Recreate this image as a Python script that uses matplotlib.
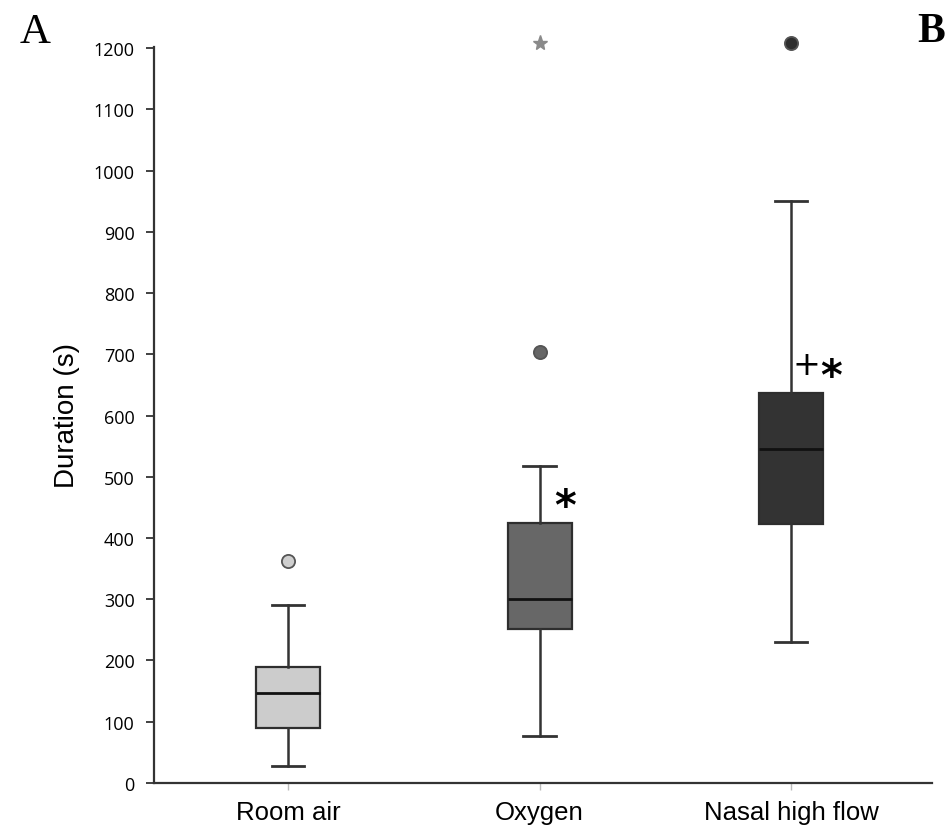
import matplotlib
matplotlib.use("Agg")
import matplotlib.pyplot as plt

# Duration per breathing-support group
categories = ["Room air", "Oxygen", "Nasal high flow"]
whisker_low = [28, 77, 231]
q1 = [90, 251, 423]
median = [147, 301, 546]
q3 = [190, 424, 636]
whisker_high = [290, 518, 951]
outliers_circle = [[363], [703], [1209]]
extremes_star = [[], [1209], []]
box_colors = ["#cccccc", "#676767", "#333333"]
flier_colors = ["#cfcfcf", "#666666", "#2e2e2e"]
y_ticks = list(range(0, 1201, 100))

# significance marks: (group index, x offset, value, text)
sig_marks = [(1, 0.10, 464, "*"), (2, 0.06, 684, "+"), (2, 0.16, 676, "*")]

fig = plt.figure(figsize=(9.48, 8.29), dpi=100)
ax = fig.add_axes([0.1624, 0.0543, 0.8207, 0.888])

stats = []
for i, name in enumerate(categories):
    stats.append(dict(label=name, whislo=whisker_low[i], q1=q1[i], med=median[i],
                      q3=q3[i], whishi=whisker_high[i], fliers=[]))

positions = list(range(len(categories)))
bp = ax.bxp(stats, positions=positions, widths=0.254, patch_artist=True,
            showfliers=False,
            boxprops=dict(edgecolor="#2e2e2e", linewidth=1.6),
            medianprops=dict(color="#111111", linewidth=2),
            whiskerprops=dict(color="#333333", linewidth=1.8),
            capprops=dict(color="#333333", linewidth=2.0),
            capwidths=0.128)
for patch, c in zip(bp["boxes"], box_colors):
    patch.set_facecolor(c)

for i in positions:
    for v in outliers_circle[i]:
        ax.plot(i, v, "o", ms=9.5, mfc=flier_colors[i], mec="#555555", mew=1.3,
                clip_on=False, zorder=5)
    for v in extremes_star[i]:
        ax.plot(i, v, marker="*", ms=11, color="#8a8a8a", clip_on=False, zorder=5)

for i, dx, v, txt in sig_marks:
    if txt == "*":
        # the asterisk glyph sits high in its line box, so lower its anchor
        ax.text(i + dx, v - 13, "*", fontsize=30, fontweight="bold",
                family="DejaVu Sans", ha="center", va="center")
    else:
        ax.text(i + dx, v, txt, fontsize=24, family="DejaVu Sans",
                ha="center", va="center")

ax.set_xlim(-0.533, 2.56)
ax.set_ylim(0, 1202)
ax.set_yticks(y_ticks)
ax.set_yticklabels([str(t) for t in y_ticks], fontsize=13, family="Open Sans")
ax.set_xticks(positions)
ax.set_xticklabels(categories, fontsize=18.5, family="Liberation Sans")
ax.tick_params(axis="y", length=6, width=1.3, color="#333333", pad=8)
ax.tick_params(axis="x", length=5, width=1.0, color="#bbbbbb", pad=7)
ax.set_ylabel("Duration (s)", fontsize=20, family="Liberation Sans", labelpad=10)

for side in ("top", "right"):
    ax.spines[side].set_visible(False)
for side in ("left", "bottom"):
    ax.spines[side].set_linewidth(1.6)
    ax.spines[side].set_color("#333333")

fig.text(0.021, 0.984, "A", fontsize=31, family="Liberation Serif", va="top", ha="left")
fig.text(0.968, 0.984, "B", fontsize=30, family="Liberation Serif", va="top",
         ha="left", fontweight="bold")

fig.savefig("out.png", dpi=100)
